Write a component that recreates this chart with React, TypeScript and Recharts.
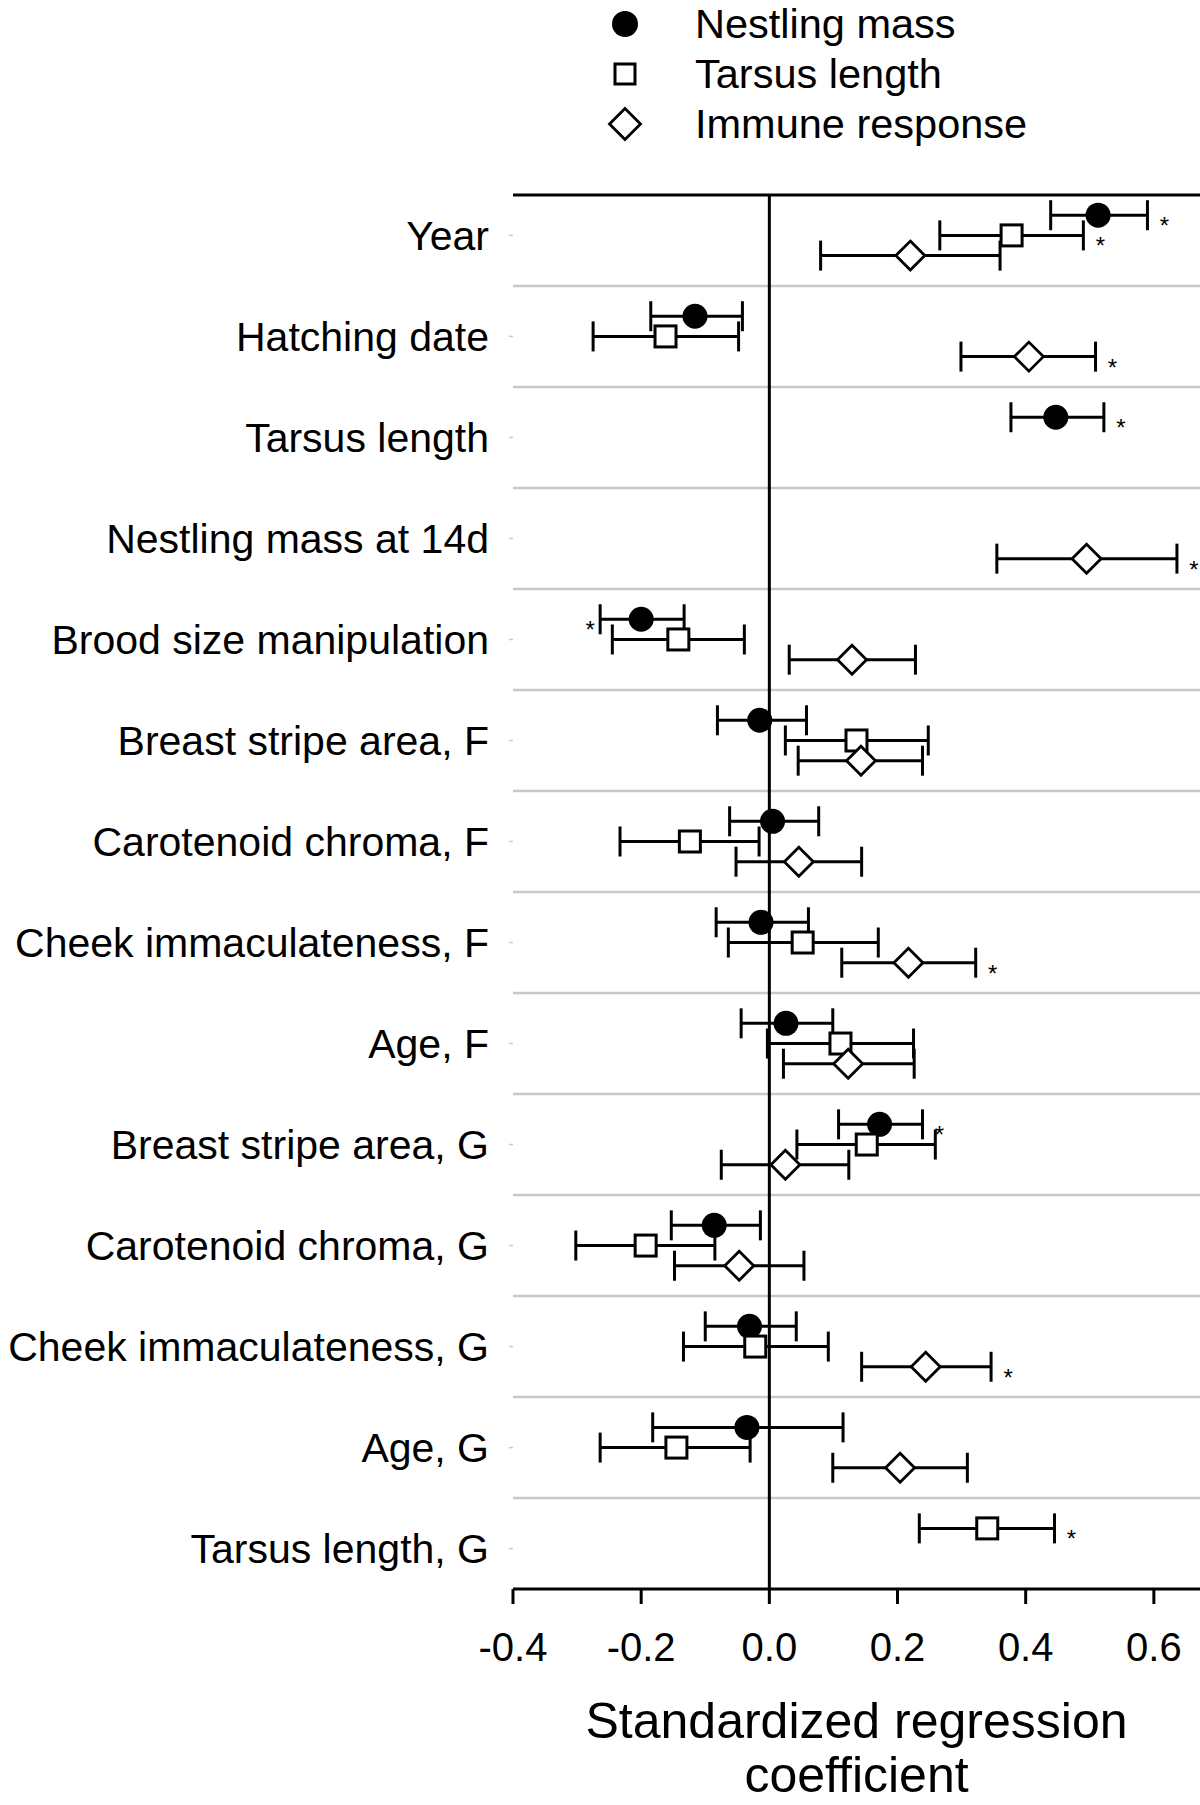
import React from "react";
import {
  ScatterChart,
  Scatter,
  XAxis,
  YAxis,
  ErrorBar,
  ReferenceLine,
  Legend,
} from "recharts";

const FONT = '"Liberation Sans", Arial, Helvetica, sans-serif';

const categories = [
  "Year",
  "Hatching date",
  "Tarsus length",
  "Nestling mass at 14d",
  "Brood size manipulation",
  "Breast stripe area, F",
  "Carotenoid chroma, F",
  "Cheek immaculateness, F",
  "Age, F",
  "Breast stripe area, G",
  "Carotenoid chroma, G",
  "Cheek immaculateness, G",
  "Age, G",
  "Tarsus length, G",
];

// estimate, lower and upper limit per row (null = not in model)
// sig: 1 = asterisk after the bar, -1 = asterisk before it
const massEst = [0.513, -0.116, 0.447, null, -0.2, -0.015, 0.005, -0.013, 0.026, 0.172, -0.086, -0.031, -0.035, null];
const massLo = [0.439, -0.185, 0.377, null, -0.264, -0.081, -0.062, -0.083, -0.044, 0.108, -0.153, -0.1, -0.182, null];
const massHi = [0.59, -0.042, 0.522, null, -0.133, 0.058, 0.077, 0.061, 0.099, 0.239, -0.014, 0.042, 0.115, null];
const massSig = [1, 0, 1, 0, -1, 0, 0, 0, 0, 1, 0, 0, 0, 0];

const tarsusEst = [0.378, -0.162, null, null, -0.142, 0.136, -0.124, 0.052, 0.111, 0.152, -0.193, -0.022, -0.145, 0.34];
const tarsusLo = [0.266, -0.275, null, null, -0.245, 0.025, -0.233, -0.064, -0.003, 0.043, -0.302, -0.134, -0.264, 0.234];
const tarsusHi = [0.49, -0.048, null, null, -0.039, 0.248, -0.016, 0.17, 0.225, 0.259, -0.085, 0.092, -0.03, 0.445];
const tarsusSig = [1, 0, 0, 0, 0, 0, 0, 0, 0, 0, 0, 0, 0, 1];

const immuneEst = [0.22, 0.405, null, 0.495, 0.129, 0.143, 0.046, 0.217, 0.123, 0.025, -0.047, 0.244, 0.204, null];
const immuneLo = [0.08, 0.299, null, 0.355, 0.031, 0.045, -0.052, 0.113, 0.022, -0.075, -0.148, 0.144, 0.099, null];
const immuneHi = [0.36, 0.509, null, 0.636, 0.228, 0.239, 0.144, 0.322, 0.226, 0.124, 0.054, 0.346, 0.309, null];
const immuneSig = [0, 1, 0, 1, 0, 0, 0, 1, 0, 0, 0, 1, 0, 0];

const xTicks = [-0.4, -0.2, 0, 0.2, 0.4, 0.6];

// in this row the tarsus estimate sits in the upper slot
const upperSlotRows = ["Tarsus length, G"];

type Kind = "circle" | "square" | "diamond";

const series: {
  name: string;
  kind: Kind;
  slot: number;
  est: (number | null)[];
  lo: (number | null)[];
  hi: (number | null)[];
  sig: number[];
}[] = [
  { name: "Nestling mass", kind: "circle", slot: -0.2, est: massEst, lo: massLo, hi: massHi, sig: massSig },
  { name: "Tarsus length", kind: "square", slot: 0, est: tarsusEst, lo: tarsusLo, hi: tarsusHi, sig: tarsusSig },
  { name: "Immune response", kind: "diamond", slot: 0.2, est: immuneEst, lo: immuneLo, hi: immuneHi, sig: immuneSig },
];

function rowY(s: (typeof series)[number], i: number) {
  if (s.kind === "square" && upperSlotRows.includes(categories[i])) return i - 0.2;
  return i + s.slot;
}

function buildPoints(s: (typeof series)[number]) {
  const pts: { x: number; y: number; err: [number, number] }[] = [];
  categories.forEach((_, i) => {
    const e = s.est[i];
    if (e == null) return;
    pts.push({ x: e, y: rowY(s, i), err: [e - (s.lo[i] as number), (s.hi[i] as number) - e] });
  });
  return pts;
}

const stars: { x: number; y: number; side: number }[] = [];
series.forEach((s) => {
  s.sig.forEach((v, i) => {
    if (!v) return;
    stars.push({ x: (v > 0 ? s.hi[i] : s.lo[i]) as number, y: rowY(s, i), side: v });
  });
});

function Marker({ kind, cx, cy, big }: { kind: Kind; cx: number; cy: number; big?: boolean }) {
  if (kind === "circle") {
    return <ellipse cx={cx} cy={cy} rx={big ? 13 : 12.5} ry={big ? 13 : 12.5} fill="#000" />;
  }
  if (kind === "square") {
    const h = big ? 10 : 10.5;
    return (
      <rect x={cx - h} y={cy - h} width={h * 2} height={h * 2} fill="#fff" stroke="#000" strokeWidth={3} />
    );
  }
  const d = big ? 15.5 : 14.5;
  return (
    <polygon
      points={`${cx},${cy - d} ${cx + d},${cy} ${cx},${cy + d} ${cx - d},${cy}`}
      fill="#fff"
      stroke="#000"
      strokeWidth={2.8}
      strokeLinejoin="miter"
    />
  );
}

const makeShape = (kind: Kind) => (props: any) => <Marker kind={kind} cx={props.cx} cy={props.cy} />;

const StarShape = (props: any) => {
  const side = props.payload?.side ?? 1;
  return (
    <text
      x={props.cx + (side > 0 ? 17 : -10)}
      y={props.cy + 19}
      textAnchor="middle"
      fontSize={24}
      fontFamily={FONT}
      fill="#000"
    >
      *
    </text>
  );
};

// rows 50px apart
const LegendBox = () => (
  <div style={{ fontFamily: FONT, fontSize: 41.5, color: "#000" }}>
    {series.map((s, i) => (
      <div key={s.name} style={{ display: "flex", alignItems: "center", height: 48, marginTop: i === 0 ? 0 : 2 }}>
        <svg width={50} height={48} style={{ flex: "none", overflow: "visible" }}>
          <Marker kind={s.kind} cx={25} cy={24} big />
        </svg>
        <span style={{ display: "block", marginLeft: 45, whiteSpace: "nowrap", lineHeight: "48px", height: 48 }}>
          {s.name}
        </span>
      </div>
    ))}
  </div>
);

const TitleLabel = (props: any) => {
  const vb = props.viewBox || {};
  const cx = vb.x + vb.width / 2;
  return (
    <text textAnchor="middle" fontSize={50} fontFamily={FONT} fill="#000">
      <tspan x={cx} y={vb.y + 149}>
        Standardized regression
      </tspan>
      <tspan x={cx} y={vb.y + 203}>
        coefficient
      </tspan>
    </text>
  );
};

export default function App() {
  return (
    <div style={{ position: "absolute", left: 0, top: 0, width: 1200, height: 1805, background: "#fff" }}>
      <ScatterChart width={1200} height={1805} margin={{ top: 195, right: 0, bottom: 0, left: 0 }}>
        <XAxis
          type="number"
          dataKey="x"
          domain={[-0.4, 0.672]}
          allowDataOverflow
          ticks={xTicks}
          interval={0}
          tickFormatter={(v: number) => v.toFixed(1)}
          height={216}
          tickSize={15}
          tickMargin={29}
          axisLine={{ stroke: "#000", strokeWidth: 3 }}
          tickLine={{ stroke: "#000", strokeWidth: 3 }}
          tick={{ fontSize: 40, fill: "#000", fontFamily: FONT }}
          label={<TitleLabel />}
        />
        <YAxis
          type="number"
          dataKey="y"
          domain={[-0.4, 13.4]}
          reversed
          allowDataOverflow
          ticks={categories.map((_, i) => i)}
          interval={0}
          tickFormatter={(v: number) => categories[v] ?? ""}
          width={513}
          tickSize={4}
          tickMargin={20}
          axisLine={false}
          tickLine={{ stroke: "#c8c8c8", strokeWidth: 1.5 }}
          tick={{ fontSize: 41, fill: "#000", fontFamily: FONT }}
        />
        {categories.slice(1).map((_, i) => (
          <ReferenceLine key={i} y={i + 0.5} stroke="#c8c8c8" strokeWidth={2.5} />
        ))}
        <ReferenceLine y={-0.4} stroke="#000" strokeWidth={3} />
        <ReferenceLine x={0} stroke="#000" strokeWidth={3} />
        <Legend
          layout="vertical"
          align="center"
          verticalAlign="middle"
          wrapperStyle={{ top: 0, left: 600, width: 440 }}
          content={() => <LegendBox />}
        />
        {series.map((s) => (
          <Scatter
            key={s.name}
            name={s.name}
            data={buildPoints(s)}
            shape={makeShape(s.kind)}
            isAnimationActive={false}
          >
            <ErrorBar dataKey="err" direction="x" width={15} stroke="#000" strokeWidth={3} isAnimationActive={false} />
          </Scatter>
        ))}
        <Scatter name="sig" data={stars} shape={StarShape} legendType="none" isAnimationActive={false} />
      </ScatterChart>
    </div>
  );
}
